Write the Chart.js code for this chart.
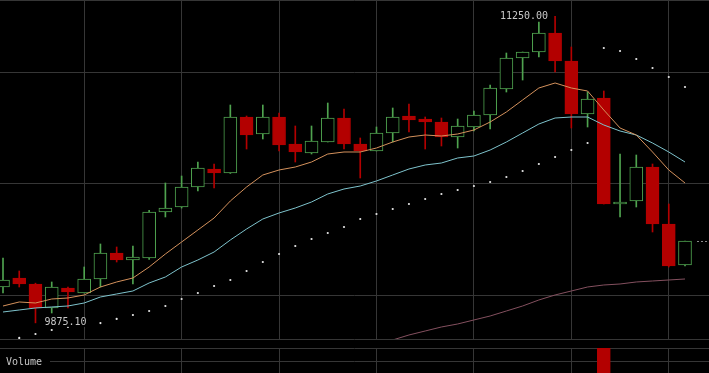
<!DOCTYPE html>
<html>
<head>
<meta charset="utf-8">
<script src="https://cdn.jsdelivr.net/npm/chart.js@4.4.1/dist/chart.umd.min.js"></script>
<style>
  html, body { margin: 0; padding: 0; background: #000; overflow: hidden; }
  #wrap { position: relative; width: 709px; height: 373px; overflow: hidden; background: #000; }
  #priceChart { position: absolute; left: 0; top: 0; }
  #volChart { position: absolute; left: 0; top: 341px; }
</style>
</head>
<body>
<div id="wrap">
  <canvas id="priceChart" width="709" height="341"></canvas>
  <canvas id="volChart" width="709" height="100"></canvas>
</div>
<script>
// candles, left to right (one per period)
const opens  = [10035.9, 10076.3, 10049.4, 9941.8, 10031.5, 10009.0, 10071.8, 10188.4, 10157.0, 10166.0,
                10372.3, 10394.7, 10484.3, 10565.0, 10547.1, 10798.2, 10722.0, 10798.2, 10677.2, 10636.8,
                10686.1, 10793.7, 10677.2, 10645.8, 10726.5, 10802.7, 10789.2, 10775.8, 10708.5, 10753.4,
                10807.2, 10923.8, 11062.8, 11089.7, 11174.9, 11049.3, 10811.6, 10883.4, 10408.1, 10421.6,
                10574.0, 10318.5, 10134.6];
const highs  = [10166.0, 10107.7, 10053.0, 10058.4, 10035.9, 10125.6, 10228.8, 10215.3, 10219.8, 10380.0,
                10502.3, 10533.6, 10596.4, 10587.4, 10852.0, 10802.7, 10852.0, 10816.1, 10757.9, 10757.9,
                10861.0, 10834.1, 10704.1, 10753.4, 10838.6, 10856.5, 10798.2, 10793.7, 10789.2, 10825.1,
                10941.7, 11085.2, 11089.7, 11224.2, 11250.0, 11112.1, 10910.3, 10914.8, 10632.3, 10627.8,
                10587.4, 10408.1, 10242.2];
const lows   = [10009.0, 10035.9, 9875.1, 9919.3, 9941.8, 10009.0, 10035.9, 10148.0, 10049.4, 10160.0,
                10349.9, 10390.0, 10466.4, 10479.9, 10545.0, 10654.7, 10699.6, 10645.8, 10596.4, 10632.3,
                10686.1, 10654.7, 10524.7, 10645.8, 10686.1, 10730.9, 10654.7, 10668.2, 10659.2, 10735.4,
                10744.4, 10910.3, 10964.1, 11067.3, 11000.0, 10748.9, 10753.4, 10408.1, 10349.9, 10394.7,
                10282.6, 10125.6, 10130.1];
const closes = [10067.3, 10049.4, 9941.8, 10035.9, 10013.5, 10071.8, 10188.4, 10157.0, 10170.5, 10372.3,
                10390.2, 10484.3, 10569.5, 10547.1, 10798.2, 10717.5, 10798.2, 10672.7, 10641.3, 10690.6,
                10793.7, 10677.2, 10645.8, 10726.5, 10798.2, 10784.8, 10775.8, 10708.5, 10757.9, 10807.2,
                10928.3, 11062.8, 11089.7, 11174.9, 11049.3, 10811.6, 10878.9, 10408.1, 10417.1, 10574.0,
                10318.5, 10130.1, 10242.2];
const volumes = [1850, 1620, 2900, 2300, 1400, 1950, 2600, 1500, 1700, 3300,
                 2400, 2200, 2500, 1600, 3900, 2100, 2300, 2700, 1800, 1500,
                 2600, 2400, 2000, 1700, 2200, 1500, 1300, 1900, 1600, 1700,
                 2900, 3600, 2100, 3200, 3800, 4400, 2500, 7000, 3400, 2800,
                 3900, 4300, 2600];

// indicators
const maFast = [9950.7, 9968.7, 9964.2, 9982.1, 9986.6, 10000.1, 10035.9, 10058.4, 10076.3, 10125.6,
                10183.9, 10237.7, 10291.5, 10345.3, 10421.6, 10484.3, 10538.2, 10560.6, 10574.0, 10596.4,
                10632.3, 10641.3, 10641.3, 10659.2, 10686.1, 10708.5, 10717.5, 10713.0, 10722.0, 10739.9,
                10775.8, 10820.7, 10874.5, 10928.3, 10950.7, 10928.3, 10914.8, 10829.6, 10748.9, 10717.5,
                10641.3, 10560.6, 10502.3];
const maMid  = [9923.8, 9932.8, 9941.8, 9946.3, 9950.7, 9964.2, 9991.1, 10004.6, 10018.0, 10053.9,
                10080.8, 10125.6, 10157.0, 10192.9, 10246.7, 10296.0, 10340.8, 10367.8, 10390.2, 10417.1,
                10453.0, 10475.4, 10488.8, 10511.3, 10538.2, 10565.0, 10583.0, 10591.9, 10614.4, 10623.3,
                10650.2, 10686.1, 10726.5, 10766.8, 10793.7, 10798.2, 10798.2, 10762.4, 10735.4, 10717.5,
                10681.6, 10641.3, 10596.4];
const maSlow = [null, null, null, null, null, null, null, null, null, null,
                null, null, null, null, null, null, null, null, null, null,
                null, 9749.0, 9766.9, 9784.8, 9798.3, 9820.7, 9838.6, 9856.6, 9870.0, 9888.0,
                9905.9, 9928.3, 9950.7, 9977.6, 10000.1, 10018.0, 10035.9, 10044.9, 10049.4, 10058.4,
                10062.8, 10067.3, 10071.8];
const sar    = [9790.0, 9807.3, 9825.2, 9843.1, 9856.6, 9866.0, 9874.0, 9892.5, 9910.4, 9928.3,
                9950.7, 9982.1, 10009.0, 10040.4, 10067.3, 10107.7, 10148.0, 10183.9, 10219.8, 10251.2,
                10278.1, 10305.0, 10340.8, 10363.3, 10385.7, 10408.1, 10430.5, 10453.0, 10470.9, 10488.8,
                10506.8, 10529.2, 10556.1, 10587.4, 10618.9, 10650.2, 10681.6, 11107.6, 11094.2, 11058.3,
                11017.9, 10977.6, 10932.8];

// axis ticks
const xTicks = [5, 11, 17, 23, 29, 35, 41];
const priceTicks = [10000, 10500, 11000];
const volTicks = [0, 1000, 2000, 3000, 4000, 5000, 6000, 7000];

const gridColor = '#363636';
const upColor = '#4fa34f';
const downColor = '#b30000';
const textColor = '#c8c8c8';
const monoFont = '10px "DejaVu Sans Mono", monospace';

const idx = opens.map((v, i) => i);
const isUp = idx.map(i => closes[i] >= opens[i]);
const pts = arr => arr.map((v, i) => ({ x: i, y: v }));

const xAxis = () => ({
  type: 'linear',
  min: -0.185,
  max: 43.478,
  offset: false,
  afterBuildTicks: axis => { axis.ticks = xTicks.map(v => ({ value: v })); },
  ticks: { display: false },
  grid: { color: gridColor, drawTicks: false, offset: false },
  border: { display: false }
});

const priceLabels = {
  id: 'priceLabels',
  afterDatasetsDraw(chart) {
    const { ctx, scales: { x, y } } = chart;
    const hi = highs.indexOf(Math.max(...highs));
    const lo = lows.indexOf(Math.min(...lows));
    ctx.save();
    ctx.font = monoFont;
    ctx.textBaseline = 'middle';

    ctx.fillStyle = textColor;
    ctx.textAlign = 'right';
    ctx.fillText(highs[hi].toFixed(2), x.getPixelForValue(hi) - 7, y.getPixelForValue(highs[hi]) + 0.5);

    const lowText = lows[lo].toFixed(2);
    const lx = x.getPixelForValue(lo) + 9;
    const ly = y.getPixelForValue(lows[lo]);
    const w = ctx.measureText(lowText).width;
    ctx.fillStyle = '#000';
    ctx.fillRect(lx - 1, ly - 5, w + 2, 9);
    ctx.fillStyle = textColor;
    ctx.textAlign = 'left';
    ctx.fillText(lowText, lx, ly);

    // last price marker
    const last = closes.length - 1;
    const py = Math.round(y.getPixelForValue(closes[last])) + 0.5;
    ctx.strokeStyle = '#8a8a8a';
    ctx.lineWidth = 1;
    ctx.setLineDash([2, 2]);
    ctx.beginPath();
    ctx.moveTo(x.getPixelForValue(last) + 12, py);
    ctx.lineTo(chart.width, py);
    ctx.stroke();
    ctx.restore();
  }
};

new Chart(document.getElementById('priceChart'), {
  type: 'bar',
  data: {
    datasets: [
      {
        type: 'line', data: pts(maFast), borderColor: '#d4915c', borderWidth: 1,
        pointRadius: 0, tension: 0, order: 0
      },
      {
        type: 'line', data: pts(maMid), borderColor: '#7ec3cc', borderWidth: 1,
        pointRadius: 0, tension: 0, order: 0
      },
      {
        type: 'line', data: pts(maSlow), borderColor: '#84505f', borderWidth: 1,
        pointRadius: 0, tension: 0, order: 0
      },
      {
        type: 'line', data: pts(sar), showLine: false, pointRadius: 1.1, borderWidth: 0,
        pointBackgroundColor: '#e6e6e6', order: 0
      },
      {
        data: idx.map(i => ({ x: i, y: [opens[i], closes[i]] })),
        backgroundColor: isUp.map(u => u ? '#000' : downColor),
        borderColor: isUp.map(u => u ? upColor : downColor),
        borderWidth: 1, borderSkipped: false, barThickness: 13, grouped: false, order: 1
      },
      {
        data: idx.map(i => ({ x: i, y: [lows[i], highs[i]] })),
        backgroundColor: isUp.map(u => u ? upColor : downColor),
        borderWidth: 0, barThickness: 1, grouped: false, order: 2
      }
    ]
  },
  options: {
    responsive: false,
    animation: false,
    events: [],
    layout: { autoPadding: false, padding: { top: 0, bottom: 2, left: 0, right: 0 } },
    plugins: { legend: { display: false }, tooltip: { enabled: false } },
    scales: {
      x: xAxis(),
      y: {
        min: 9802.7,
        max: 11322.9,
        beginAtZero: false,
        afterBuildTicks: axis => {
          axis.ticks = [axis.min, ...priceTicks, axis.max].map(v => ({ value: v }));
        },
        ticks: { display: false },
        grid: { color: gridColor, drawTicks: false },
        border: { display: false }
      }
    }
  },
  plugins: [priceLabels]
});

const volumeLabel = {
  id: 'volumeLabel',
  afterDraw(chart) {
    const { ctx } = chart;
    ctx.save();
    ctx.fillStyle = '#000';
    ctx.fillRect(0, 14, 50, 13);
    ctx.font = monoFont;
    ctx.fillStyle = textColor;
    ctx.textBaseline = 'middle';
    ctx.fillText('Volume', 6, 21);
    ctx.restore();
  }
};

new Chart(document.getElementById('volChart'), {
  type: 'bar',
  data: {
    datasets: [{
      data: idx.map(i => ({ x: i, y: volumes[i] })),
      backgroundColor: isUp.map(u => u ? '#000' : downColor),
      borderColor: isUp.map(u => u ? upColor : downColor),
      borderWidth: 1, borderSkipped: false, barThickness: 13, grouped: false
    }]
  },
  options: {
    responsive: false,
    animation: false,
    events: [],
    layout: { autoPadding: false, padding: { top: 7, bottom: 0, left: 0, right: 0 } },
    plugins: { legend: { display: false }, tooltip: { enabled: false } },
    scales: {
      x: xAxis(),
      y: {
        min: 0,
        max: 7000,
        afterBuildTicks: axis => { axis.ticks = volTicks.map(v => ({ value: v })); },
        ticks: { display: false },
        grid: { color: gridColor, drawTicks: false },
        border: { display: false }
      }
    }
  },
  plugins: [volumeLabel]
});
</script>
</body>
</html>
